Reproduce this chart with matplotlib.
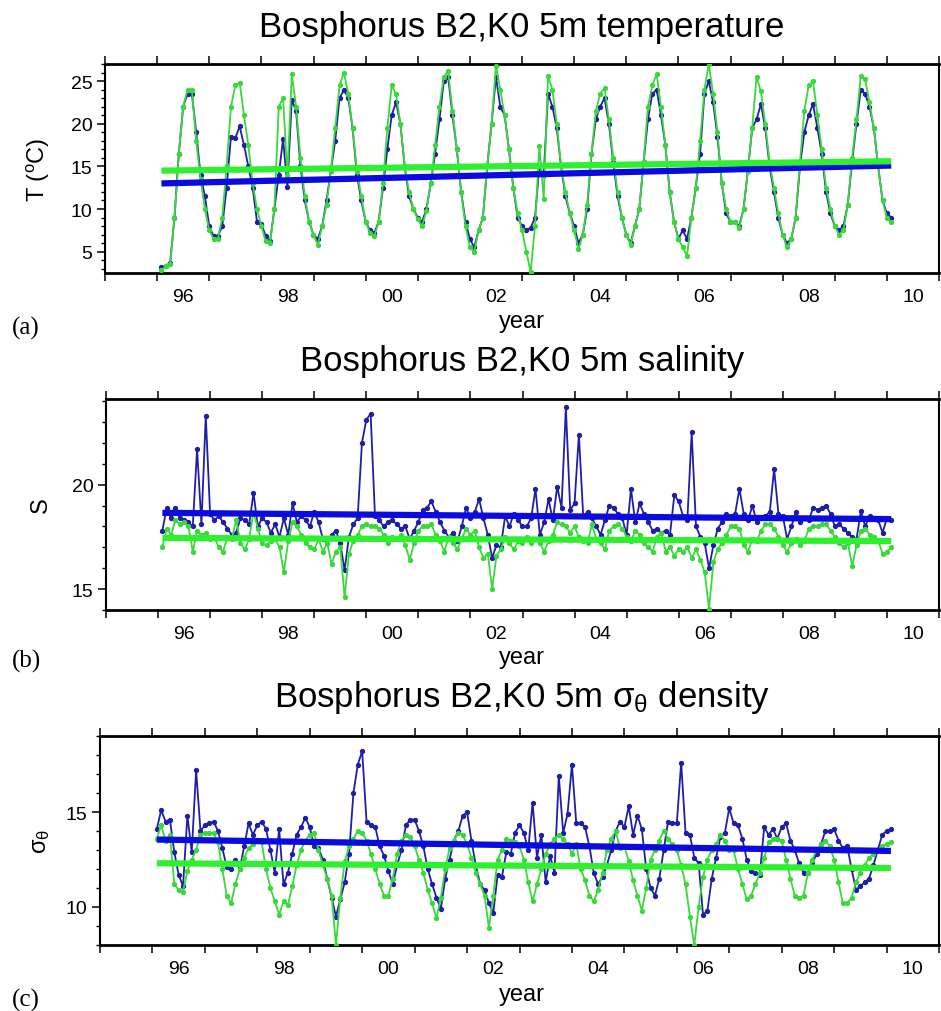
import numpy as np
import matplotlib
matplotlib.use("Agg")
from matplotlib import pyplot as plt
from matplotlib.ticker import FixedLocator, MultipleLocator, NullFormatter

plt.rcParams['font.family'] = ['Liberation Sans', 'DejaVu Sans']
plt.rcParams['mathtext.fontset'] = 'dejavusans'

# monthly samples, Feb 1996 .. Feb 2010
t = 1996.083 + np.arange(169) / 12.0

# temperature (degC), rows = Feb..Jan
temp_b2 = [3.2, 3.3, 3.7, 9.0, 16.5, 22.0, 23.5, 23.5, 19.0, 14.0, 11.5, 8.0,
           6.8, 6.8, 8.0, 12.5, 18.5, 18.3, 19.7, 17.5, 15.0, 12.5, 8.5, 8.3,
           6.8, 6.2, 10.0, 14.0, 18.2, 12.6, 22.8, 21.5, 15.0, 11.0, 8.5, 7.0,
           6.5, 8.0, 11.0, 14.5, 18.0, 23.0, 24.0, 23.0, 19.5, 14.0, 11.0, 8.5,
           7.5, 7.2, 8.5, 12.5, 17.0, 21.0, 22.5, 20.0, 15.0, 11.5, 10.0, 9.0,
           8.5, 10.0, 13.0, 16.5, 20.5, 25.0, 25.5, 21.0, 17.0, 12.0, 8.5, 6.5,
           5.5, 7.5, 9.0, 15.0, 20.0, 25.5, 22.0, 21.0, 17.0, 12.5, 9.0, 8.0,
           7.5, 7.8, 9.0, 15.0, 14.0, 23.5, 22.0, 19.5, 15.0, 11.5, 9.5, 8.0,
           6.0, 7.0, 10.0, 16.5, 20.5, 22.0, 23.0, 20.0, 15.5, 11.5, 9.0, 7.0,
           6.0, 8.0, 10.0, 15.5, 20.5, 23.5, 24.0, 21.0, 17.5, 12.0, 8.5, 6.5,
           7.5, 6.5, 9.0, 12.5, 16.5, 23.5, 25.0, 22.5, 18.5, 13.0, 9.5, 8.5,
           8.5, 8.0, 10.0, 14.5, 19.5, 20.5, 22.3, 19.5, 15.0, 12.0, 9.0, 7.0,
           6.0, 6.5, 9.0, 15.0, 19.0, 21.0, 22.3, 19.5, 16.5, 12.0, 9.5, 8.0,
           7.5, 8.0, 10.5, 15.5, 20.0, 24.0, 23.5, 22.0, 19.5, 15.0, 11.0, 9.5,
           9.0]
temp_k0 = [2.8, 3.3, 3.6, 9.0, 16.5, 22.0, 24.0, 24.0, 18.0, 13.5, 10.0, 7.5,
           6.5, 6.5, 9.0, 15.0, 22.0, 24.5, 24.8, 21.0, 17.5, 13.0, 10.0, 8.0,
           6.2, 6.0, 10.0, 22.0, 23.0, 14.0, 25.8, 22.0, 16.0, 11.5, 8.5, 7.0,
           5.8, 8.0, 10.5, 14.5, 19.5, 24.5, 26.0, 23.5, 19.5, 14.5, 11.5, 8.5,
           7.2, 6.8, 8.5, 13.0, 19.5, 24.5, 23.5, 20.0, 15.0, 12.0, 10.0, 8.8,
           8.0, 9.8, 13.0, 17.5, 22.0, 25.5, 26.2, 21.5, 17.0, 12.0, 8.0, 5.5,
           5.0, 7.5, 9.0, 15.0, 20.0, 26.8, 24.0, 21.0, 17.0, 12.5, 9.5, 7.5,
           5.0, 2.6, 8.0, 17.4, 11.2, 25.6, 24.0, 20.0, 15.0, 12.0, 9.5, 7.5,
           5.3, 7.0, 10.5, 16.5, 21.5, 23.5, 24.2, 20.5, 16.0, 12.0, 9.0, 7.0,
           5.8, 8.0, 10.0, 15.5, 22.0, 24.5, 25.8, 22.0, 17.5, 12.0, 8.5, 6.5,
           5.5, 4.5, 9.0, 12.5, 18.0, 24.0, 27.0, 23.5, 19.0, 13.0, 10.0, 8.5,
           8.5, 7.8, 10.0, 14.5, 19.5, 25.5, 23.8, 20.0, 15.5, 12.5, 9.5, 7.0,
           5.5, 6.5, 9.0, 15.5, 21.5, 24.5, 25.0, 21.0, 17.0, 12.5, 10.0, 8.0,
           7.0, 7.5, 10.5, 16.0, 20.5, 25.6, 25.2, 22.5, 19.5, 15.0, 11.0, 9.0,
           8.5]

# salinity
sal_b2 = [17.8, 18.9, 18.4, 18.9, 18.4, 18.3, 18.2, 18.0, 21.7, 18.1, 23.3, 18.6,
          18.3, 18.5, 18.2, 17.9, 17.6, 17.7, 18.4, 18.3, 18.1, 19.6, 18.0, 18.4,
          18.2, 17.7, 18.1, 17.5, 18.4, 17.6, 19.1, 18.2, 18.5, 18.3, 18.0, 18.7,
          18.2, 17.4, 17.2, 17.6, 17.8, 17.2, 15.9, 17.5, 18.1, 18.4, 22.0, 23.1,
          23.4, 18.5, 18.3, 18.0, 18.2, 18.3, 18.1, 17.9, 18.0, 17.4, 17.8, 18.2,
          18.8, 18.9, 19.2, 18.7, 18.2, 17.8, 17.5, 17.7, 17.3, 18.0, 18.9, 18.4,
          18.7, 19.3, 18.4, 17.6, 16.5, 17.1, 17.0, 18.5, 18.0, 18.6, 18.3, 18.0,
          18.0, 18.4, 19.8, 17.6, 18.2, 19.3, 18.3, 19.9, 18.9, 23.7, 18.8, 19.1,
          22.4, 18.5, 18.7, 18.4, 18.0, 17.6, 18.3, 19.0, 18.9, 18.6, 18.4, 17.6,
          19.8, 18.2, 19.1, 18.6, 18.2, 17.8, 17.9, 17.7, 17.8, 17.6, 19.5, 19.2,
          18.5, 18.3, 22.5, 18.0, 17.5, 17.2, 16.0, 17.1, 17.9, 18.2, 18.6, 18.5,
          18.6, 19.8, 18.6, 18.3, 19.0, 18.2, 18.4, 18.5, 18.7, 20.75, 18.6, 18.5,
          17.4, 18.0, 18.7, 18.2, 18.4, 18.3, 18.9, 18.8, 18.9, 19.0, 18.6, 18.0,
          18.1, 17.9, 17.7, 17.5, 17.4, 18.75, 18.0, 18.5, 18.4, 18.3, 17.7, 18.4,
          18.3]
sal_k0 = [17.0, 17.9, 17.6, 18.3, 18.1, 18.2, 18.0, 16.8, 17.8, 17.6, 17.7, 17.4,
          17.5, 17.0, 16.8, 17.5, 17.4, 18.3, 17.2, 16.9, 17.4, 18.7, 17.9, 17.2,
          17.1, 17.3, 17.4, 17.0, 15.8, 17.3, 18.2, 18.0, 17.6, 17.2, 17.0, 16.9,
          17.4, 16.8, 17.2, 16.2, 16.8, 17.0, 14.6, 16.7, 17.3, 17.6, 18.0, 18.1,
          18.0, 18.0, 17.9, 17.6, 17.2, 17.5, 17.4, 17.6, 17.1, 16.4, 17.2, 17.8,
          18.0, 18.0, 18.1, 17.6, 17.3, 16.8, 17.5, 17.2, 16.9, 17.4, 17.9, 17.6,
          17.8, 17.0, 16.5, 16.7, 15.0, 16.6, 16.9, 17.5, 17.2, 16.9, 17.3, 17.2,
          17.5, 17.2, 17.4, 17.2, 16.8, 17.3, 17.6, 18.2, 18.1, 18.0, 17.7, 18.0,
          17.5, 17.3, 17.2, 18.1, 17.4, 17.2, 16.9, 17.8, 18.0, 18.1, 17.9, 17.5,
          17.3, 17.8, 17.6, 17.2, 17.0, 16.8, 17.5, 17.7, 16.8, 17.0, 16.6, 16.9,
          16.8, 17.0, 16.5, 16.9, 16.4, 15.8, 14.05, 16.3, 16.9, 17.2, 17.6, 18.0,
          18.0, 17.9, 17.1, 16.8, 17.4, 17.3, 17.8, 18.1, 18.1, 17.9, 17.5, 17.1,
          16.8, 17.2, 17.4, 17.1, 17.3, 17.9, 18.0, 18.0, 18.1, 18.1, 17.8, 17.5,
          17.2, 17.0, 17.2, 16.1, 17.1, 17.8, 17.9, 17.6, 17.5, 17.3, 16.7, 16.8,
          17.0]

# sigma-theta density
sig_b2 = [14.1, 15.1, 14.5, 14.6, 12.9, 11.7, 11.1, 14.8, 12.9, 17.2, 14.0, 14.3,
          14.4, 14.5, 14.0, 13.1, 12.1, 12.0, 12.5, 12.0, 13.2, 14.4, 13.8, 14.3,
          14.5, 14.1, 13.0, 11.8, 14.1, 11.2, 11.8, 12.8, 13.8, 14.2, 14.7, 14.2,
          13.2, 13.1, 12.5, 11.5, 10.5, 9.5, 10.4, 11.3, 12.8, 16.0, 17.5, 18.2,
          14.5, 14.3, 14.2, 13.2, 12.7, 11.9, 11.2, 12.2, 13.0, 14.3, 14.6, 14.6,
          14.0, 13.2, 12.0, 11.2, 10.5, 9.9, 11.5, 12.5, 13.5, 14.0, 14.8, 15.0,
          13.5, 12.2, 11.2, 10.9, 10.2, 9.7, 11.7, 11.6, 12.9, 12.8, 13.9, 14.3,
          13.9, 13.0, 15.5, 12.6, 13.8, 11.3, 12.7, 11.8, 16.9, 13.9, 14.9, 17.5,
          14.4, 14.4, 14.2, 13.2, 11.8, 11.2, 11.6, 12.2, 13.0, 14.0, 14.5, 14.2,
          15.3, 13.8, 14.8, 14.1, 12.0, 11.0, 10.6, 11.5, 13.0, 14.5, 14.4, 14.4,
          17.6, 13.9, 13.8, 12.6, 12.3, 9.6, 9.8, 11.5, 12.6, 13.7, 13.9, 15.2,
          14.4, 14.3, 13.6, 12.5, 11.9, 11.8, 11.7, 14.2, 13.8, 14.1, 13.6, 14.2,
          14.4, 13.5, 13.0, 12.3, 11.8, 11.8, 12.3, 12.8, 13.3, 14.0, 14.0, 14.1,
          13.5, 13.1, 13.2, 12.0, 10.9, 11.1, 11.3, 11.5, 12.2, 13.0, 13.8, 14.0,
          14.1]
sig_k0 = [13.6, 14.3, 13.5, 13.8, 11.2, 10.9, 10.8, 11.9, 12.5, 13.0, 13.8, 13.9,
          13.9, 13.9, 13.4, 12.0, 10.6, 10.2, 11.2, 12.0, 12.6, 13.1, 13.3, 13.5,
          13.4, 12.0, 11.0, 10.3, 9.6, 10.3, 10.1, 11.1, 12.2, 13.0, 13.5, 13.8,
          13.9, 13.0, 12.2, 11.5, 10.6, 8.0, 10.5, 12.4, 13.2, 13.6, 14.0, 13.9,
          13.5, 12.8, 12.0, 11.2, 10.6, 10.6, 11.5, 12.8, 13.5, 13.8, 13.7, 13.2,
          12.5, 11.8, 10.9, 10.2, 9.4, 10.5, 12.0, 13.1, 13.5, 13.9, 13.8, 13.3,
          12.6, 11.8, 11.2, 10.6, 8.9, 10.6, 12.5, 13.0, 13.6, 13.5, 13.4, 13.2,
          12.5, 11.3, 10.3, 11.2, 12.0, 12.8, 13.3, 13.6, 13.8, 13.6, 13.3, 12.8,
          13.3, 12.0, 11.4, 10.6, 10.3, 10.9, 11.8, 13.0, 13.6, 14.0, 13.1, 13.2,
          12.4, 11.4, 10.6, 9.8, 11.0, 12.5, 13.0, 13.5, 14.0, 13.6, 13.3, 13.0,
          12.2, 11.2, 9.5, 8.0, 10.0, 11.6, 12.5, 13.0, 13.3, 13.8, 13.5, 13.0,
          13.0, 12.0, 11.2, 10.4, 10.6, 11.2, 11.8, 12.6, 13.4, 13.6, 13.6, 13.5,
          12.5, 11.5, 10.6, 10.5, 10.6, 11.8, 12.5, 13.0, 13.3, 13.5, 13.2, 12.5,
          11.3, 10.2, 10.2, 10.5, 11.3, 11.8, 12.2, 12.6, 12.8, 13.0, 13.2, 13.3,
          13.4]

# linear trend end points (first, last sample)
trend_t = [1996.083, 2010.083]
trend_temp_b2 = [13.0, 15.1]
trend_temp_k0 = [14.5, 15.6]
trend_sal_b2 = [18.65, 18.35]
trend_sal_k0 = [17.45, 17.3]
trend_sig_b2 = [13.55, 12.95]
trend_sig_k0 = [12.3, 12.05]

label_years = [1996.5, 1998.5, 2000.5, 2002.5, 2004.5, 2006.5, 2008.5, 2010.5]
label_text = ['96', '98', '00', '02', '04', '06', '08', '10']

BLUE = '#1e1ea8'
GREEN = '#3ad83a'
TBLUE = '#0b0be0'
TGREEN = '#2ff02f'

W, H = 941, 1012
fig = plt.figure(figsize=(W / 100, H / 100), dpi=100)


def panel(top, bottom, left, blue, green, tb, tg, ylim, yticks, ylab, title,
          title_y, year_y, letter, letter_y):
    ax = fig.add_axes([left / W, 1 - bottom / H, 939 / W - left / W, (bottom - top) / H])
    ax.plot(t, blue, '-o', color=BLUE, lw=1.3, ms=2.8, mec=BLUE, zorder=3)
    ax.plot(t, green, '-o', color=GREEN, lw=1.3, ms=2.8, mec=GREEN, zorder=4)
    ax.plot(trend_t, tb, color=TBLUE, lw=4.5, solid_capstyle='butt', zorder=5)
    ax.plot(trend_t, tg, color=TGREEN, lw=4.5, solid_capstyle='butt', zorder=6)
    ax.set_xlim(1995, 2011)
    ax.set_ylim(*ylim)
    ax.xaxis.set_major_locator(MultipleLocator(1))
    ax.xaxis.set_major_formatter(NullFormatter())
    ax.xaxis.set_minor_locator(FixedLocator(label_years))
    ax.set_xticklabels(label_text, minor=True)
    ax.tick_params(axis='x', which='major', direction='out', length=6, width=1.1,
                   top=True, bottom=True)
    ax.tick_params(axis='x', which='minor', length=0, pad=11, labelsize=14)
    ax.yaxis.set_major_locator(FixedLocator(yticks))
    ax.yaxis.set_minor_locator(MultipleLocator(1))
    ax.tick_params(axis='y', which='major', direction='out', length=6, width=1.1,
                   labelsize=14, pad=3)
    ax.tick_params(axis='y', which='minor', direction='out', length=3, width=1.0)
    for s in ['top', 'bottom']:
        ax.spines[s].set_linewidth(2.0)
    for s in ['left', 'right']:
        ax.spines[s].set_linewidth(1.5)
    ax.set_ylabel(ylab, fontsize=17)
    ax.yaxis.set_label_coords(-(left - 52) / (939 - left), 0.5)
    fig.text(522 / W, 1 - title_y / H, title, fontsize=25, ha='center', va='center')
    fig.text(522 / W, 1 - year_y / H, 'year', fontsize=17, ha='center', va='center')
    fig.text(12 / W, 1 - letter_y / H, letter, fontsize=18, ha='left', va='center',
             family='Liberation Serif')
    return ax


panel(65, 274, 105, temp_b2, temp_k0, trend_temp_b2, trend_temp_k0, (2.5, 27),
      [5, 10, 15, 20, 25], 'T ($\\mathregular{^oC}$)',
      'Bosphorus B2,K0 5m temperature', 27, 322, '(a)', 328)
panel(400, 611, 106, sal_b2, sal_k0, trend_sal_b2, trend_sal_k0, (14, 24.1),
      [15, 20], 'S', 'Bosphorus B2,K0 5m salinity', 362, 658, '(b)', 661)
panel(737, 946, 100, sig_b2, sig_k0, trend_sig_b2, trend_sig_k0, (8, 19),
      [10, 15], '$\\mathregular{\\sigma_\\theta}$',
      'Bosphorus B2,K0 5m $\\mathregular{\\sigma_\\theta}$ density', 698, 995, '(c)', 1000)

fig.savefig('out.png', dpi=100)
